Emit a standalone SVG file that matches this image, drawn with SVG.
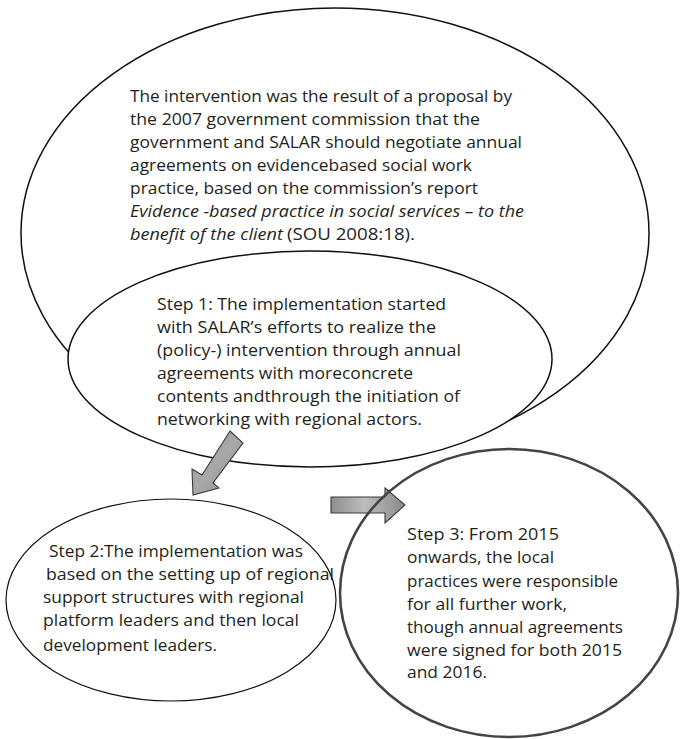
<svg xmlns="http://www.w3.org/2000/svg" width="681" height="739" viewBox="0 0 681 739">
<defs>
<linearGradient id="gh" x1="0" y1="0" x2="1" y2="0">
<stop offset="0" stop-color="#8e8e8e"/>
<stop offset="0.45" stop-color="#bdbdbd"/>
<stop offset="1" stop-color="#8a8a8a"/>
</linearGradient>
<linearGradient id="gd" x1="0" y1="0" x2="1" y2="1">
<stop offset="0" stop-color="#9a9a9a"/>
<stop offset="0.5" stop-color="#a8a8a8"/>
<stop offset="1" stop-color="#8c8c8c"/>
</linearGradient>
<style>
.t{font-family:"Open Sans","Liberation Sans",sans-serif;font-size:16.5px;fill:#231f20}
.i{font-style:italic}
.e{fill:#fff;stroke:#111;stroke-width:1.5}
.e3{fill:none;stroke:#444;stroke-width:2.6}
.a{stroke:#3a3a3a;stroke-width:1.1}
</style>
</defs>
<rect width="681" height="739" fill="#fff"/>
<g id="intervention">
<ellipse class="e" cx="335" cy="233" rx="314" ry="225"/>
<text class="t" x="130" y="102" textLength="382" lengthAdjust="spacingAndGlyphs">The intervention was the result of a proposal by</text>
<text class="t" x="130" y="125" textLength="350" lengthAdjust="spacingAndGlyphs">the 2007 government commission that the</text>
<text class="t" x="130" y="148" textLength="392" lengthAdjust="spacingAndGlyphs">government and SALAR should negotiate annual</text>
<text class="t" x="130" y="171" textLength="342" lengthAdjust="spacingAndGlyphs">agreements on evidencebased social work</text>
<text class="t" x="130" y="194" textLength="348" lengthAdjust="spacingAndGlyphs">practice, based on the commission’s report</text>
<text class="t i" x="130" y="217" textLength="394" lengthAdjust="spacingAndGlyphs">Evidence -based practice in social services – to the</text>
<text class="t i" x="130" y="240" textLength="153" lengthAdjust="spacingAndGlyphs">benefit of the client</text>
<text class="t" x="287" y="240" textLength="128" lengthAdjust="spacingAndGlyphs">(SOU 2008:18).</text>
</g>
<g id="step1">
<ellipse class="e" cx="310" cy="359" rx="242" ry="108"/>
<text class="t" x="157" y="310" textLength="289" lengthAdjust="spacingAndGlyphs">Step 1: The implementation started</text>
<text class="t" x="157" y="333" textLength="279" lengthAdjust="spacingAndGlyphs">with SALAR’s efforts to realize the</text>
<text class="t" x="157" y="356" textLength="304" lengthAdjust="spacingAndGlyphs">(policy-) intervention through annual</text>
<text class="t" x="157" y="379" textLength="256" lengthAdjust="spacingAndGlyphs">agreements with moreconcrete</text>
<text class="t" x="157" y="402" textLength="303" lengthAdjust="spacingAndGlyphs">contents andthrough the initiation of</text>
<text class="t" x="157" y="425" textLength="265" lengthAdjust="spacingAndGlyphs">networking with regional actors.</text>
</g>
<g id="connectors">
<polygon class="a" fill="url(#gd)" points="230,431 243,443 213,483 219,488 193,495 192,469 202,475"/>
<polygon class="a" fill="url(#gh)" points="331,497 385,497 385,488 405,505 385,523 385,513 331,513"/>
</g>
<g id="step2">
<ellipse cx="171" cy="600" rx="165" ry="101" fill="none" stroke="#111" stroke-width="1.2"/>
<text class="t" x="49" y="557" textLength="254" lengthAdjust="spacingAndGlyphs">Step 2:The implementation was</text>
<text class="t" x="46" y="580" textLength="288" lengthAdjust="spacingAndGlyphs">based on the setting up of regional</text>
<text class="t" x="43" y="603" textLength="261" lengthAdjust="spacingAndGlyphs">support structures with regional</text>
<text class="t" x="43" y="626" textLength="256" lengthAdjust="spacingAndGlyphs">platform leaders and then local</text>
<text class="t" x="43" y="651" textLength="174" lengthAdjust="spacingAndGlyphs">development leaders.</text>
</g>
<g id="step3">
<ellipse class="e3" cx="509" cy="593" rx="169" ry="144"/>
<text class="t" x="407" y="540" textLength="152" lengthAdjust="spacingAndGlyphs">Step 3: From 2015</text>
<text class="t" x="407" y="563" textLength="147" lengthAdjust="spacingAndGlyphs">onwards, the local</text>
<text class="t" x="407" y="587" textLength="211" lengthAdjust="spacingAndGlyphs">practices were responsible</text>
<text class="t" x="407" y="610" textLength="160" lengthAdjust="spacingAndGlyphs">for all further work,</text>
<text class="t" x="407" y="633" textLength="216" lengthAdjust="spacingAndGlyphs">though annual agreements</text>
<text class="t" x="407" y="656" textLength="215" lengthAdjust="spacingAndGlyphs">were signed for both 2015</text>
<text class="t" x="407" y="678" textLength="80" lengthAdjust="spacingAndGlyphs">and 2016.</text>
</g>
</svg>
